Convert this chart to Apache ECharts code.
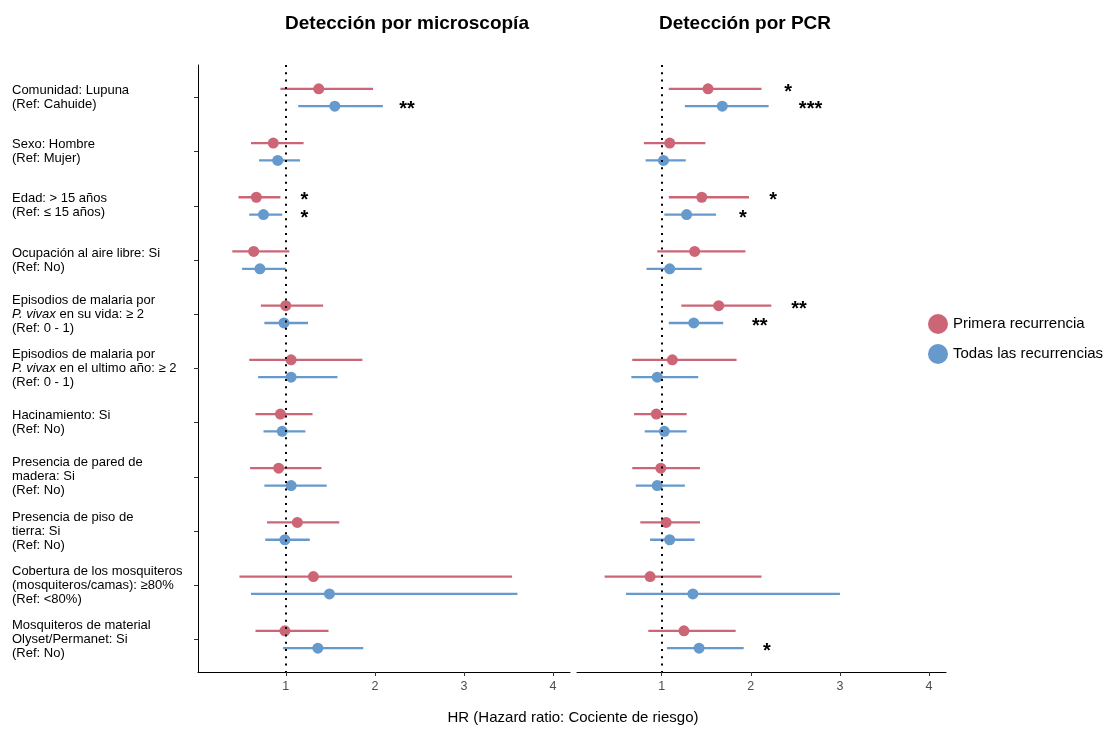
<!DOCTYPE html>
<html>
<head>
<meta charset="utf-8">
<script src="https://cdn.jsdelivr.net/npm/echarts@6/dist/echarts.min.js"></script>
<style>
  html, body { margin: 0; padding: 0; background: #fff; }
  #chart { width: 1105px; height: 729px; }
</style>
</head>
<body>
<div id="chart"></div>
<script>
const FONT = "Liberation Sans, Arial, sans-serif";
const RED = "#CC6677";
const BLUE = "#6699CC";

const categories = [
  "Comunidad: Lupuna\n(Ref: Cahuide)",
  "Sexo: Hombre\n(Ref: Mujer)",
  "Edad: > 15 años\n(Ref: ≤ 15 años)",
  "Ocupación al aire libre: Si\n(Ref: No)",
  "Episodios de malaria por\n{i|P. vivax} en su vida: ≥ 2\n(Ref: 0 - 1)",
  "Episodios de malaria por\n{i|P. vivax} en el ultimo año: ≥ 2\n(Ref: 0 - 1)",
  "Hacinamiento: Si\n(Ref: No)",
  "Presencia de pared de\nmadera: Si\n(Ref: No)",
  "Presencia de piso de\ntierra: Si\n(Ref: No)",
  "Cobertura de los mosquiteros\n(mosquiteros/camas): ≥80%\n(Ref: <80%)",
  "Mosquiteros de material\nOlyset/Permanet: Si\n(Ref: No)"
];

const seriesNames = ["Primera recurrencia", "Todas las recurrencias"];
const xTicks = [1, 2, 3, 4];

// [IC inferior, HR, IC superior]
const micPrimera = [[0.94,1.37,1.98],[0.61,0.86,1.20],[0.47,0.67,0.94],[0.40,0.64,1.04],[0.72,1.00,1.42],[0.59,1.06,1.86],[0.66,0.94,1.30],[0.60,0.92,1.40],[0.79,1.13,1.60],[0.48,1.31,3.54],[0.66,0.99,1.48]];
const micTodas   = [[1.14,1.55,2.09],[0.70,0.91,1.16],[0.59,0.75,0.96],[0.51,0.71,1.00],[0.76,0.98,1.25],[0.69,1.06,1.58],[0.75,0.96,1.22],[0.76,1.06,1.46],[0.77,0.99,1.27],[0.61,1.49,3.60],[0.97,1.36,1.87]];
const pcrPrimera = [[1.08,1.52,2.12],[0.80,1.09,1.49],[1.08,1.45,1.98],[0.95,1.37,1.94],[1.22,1.64,2.23],[0.67,1.12,1.84],[0.69,0.94,1.28],[0.67,0.99,1.43],[0.76,1.05,1.43],[0.36,0.87,2.12],[0.85,1.25,1.83]];
const pcrTodas   = [[1.26,1.68,2.20],[0.82,1.02,1.27],[1.03,1.28,1.61],[0.83,1.09,1.45],[1.08,1.36,1.69],[0.66,0.95,1.41],[0.81,1.03,1.28],[0.71,0.95,1.26],[0.87,1.09,1.37],[0.60,1.35,3.00],[1.06,1.42,1.92]];

// [x, fila, serie (0 primera / 1 todas), texto]
const micStars = [[2.36,1,1,"**"],[1.21,3,0,"*"],[1.21,3,1,"*"]];
const pcrStars = [[2.42,1,0,"*"],[2.67,1,1,"***"],[2.25,3,0,"*"],[1.91,3,1,"*"],[2.54,5,0,"**"],[2.10,5,1,"**"],[2.18,11,1,"*"]];

const OFF = 0.16;
const rows = categories.map((_, i) => i + 1);

function barSeries(arr, k, color, gi) {
  const off = k === 0 ? -OFF : OFF;
  return {
    type: "custom", name: "_ci" + k, xAxisIndex: gi, yAxisIndex: gi, z: 2,
    data: arr.map((d, i) => [d[0], d[1], d[2], i + 1 + off]),
    encode: { x: [0, 2], y: 3 },
    renderItem: (params, api) => {
      const y = api.value(3);
      const a = api.coord([api.value(0), y]);
      const b = api.coord([api.value(2), y]);
      return { type: "line", shape: { x1: a[0], y1: a[1], x2: b[0], y2: b[1] },
               style: { stroke: color, lineWidth: 2.3 } };
    },
    silent: true
  };
}

function pointSeries(arr, k, color, gi) {
  const off = k === 0 ? -OFF : OFF;
  return {
    type: "scatter", name: seriesNames[k], xAxisIndex: gi, yAxisIndex: gi, z: 3,
    symbol: "circle", symbolSize: 11,
    itemStyle: { color: color, opacity: 1 },
    data: arr.map((d, i) => [d[1], i + 1 + off])
  };
}

function starSeries(stars, gi) {
  return {
    type: "custom", name: "_stars", xAxisIndex: gi, yAxisIndex: gi, z: 4, silent: true,
    data: stars.map(s => [s[0], s[1] + (s[2] === 0 ? -OFF : OFF)]),
    encode: { x: 0, y: 1 },
    renderItem: (params, api) => {
      const p = api.coord([api.value(0), api.value(1)]);
      return { type: "text", x: p[0], y: p[1] + 3.5,
               style: { text: stars[params.dataIndex][3], fill: "#000", font: "bold 20px " + FONT,
                        align: "center", verticalAlign: "middle" } };
    }
  };
}

function refLine(gi) {
  return {
    type: "line", name: "_ref", xAxisIndex: gi, yAxisIndex: gi, data: [], z: 1,
    markLine: {
      silent: true, symbol: "none", label: { show: false },
      lineStyle: { color: "#000", width: 2, type: [2, 5.3] },
      data: [{ xAxis: 1 }]
    }
  };
}

function xAxis(gi, min) {
  return {
    type: "value", gridIndex: gi, min: min, max: 4.19,
    splitLine: { show: false },
    axisLine: { show: true, lineStyle: { color: "#000", width: 1 } },
    axisTick: { show: true, customValues: xTicks, length: 4, lineStyle: { color: "#333" } },
    axisLabel: { customValues: xTicks, color: "#4d4d4d", fontSize: 12.5, fontFamily: FONT, margin: 8 }
  };
}

function yAxis(gi, withLabels) {
  return {
    type: "value", gridIndex: gi, inverse: true, min: 0.4, max: 11.6,
    splitLine: { show: false },
    axisLine: { show: withLabels, onZero: false, lineStyle: { color: "#000", width: 1 } },
    axisTick: { show: withLabels, customValues: rows, length: 4, lineStyle: { color: "#333" } },
    axisLabel: {
      show: withLabels, customValues: rows, align: "left", margin: 186,
      color: "#000", fontSize: 13, fontFamily: FONT, lineHeight: 14,
      formatter: v => categories[Math.round(v) - 1] || "",
      rich: { i: { fontStyle: "italic", fontSize: 13, fontFamily: FONT, color: "#000", lineHeight: 14 } }
    }
  };
}

const chart = echarts.init(document.getElementById("chart"), null, { renderer: "canvas" });
chart.setOption({
  backgroundColor: "#fff",
  animation: false,
  textStyle: { fontFamily: FONT },
  grid: [
    { left: 198, top: 65, width: 372, height: 607 },
    { left: 577, top: 65, width: 369, height: 607 }
  ],
  xAxis: [xAxis(0, 0.015), xAxis(1, 0.05)],
  yAxis: [yAxis(0, true), yAxis(1, false)],
  legend: {
    data: seriesNames, orient: "vertical", left: 923, top: 309,
    itemWidth: 20, itemHeight: 20, itemGap: 10, icon: "circle",
    textStyle: { fontSize: 15, color: "#000", fontFamily: FONT }
  },
  graphic: [
    { type: "text", x: 407, y: 24, style: { text: "Detección por microscopía", font: "bold 19px " + FONT, fill: "#000", align: "center", verticalAlign: "middle" } },
    { type: "text", x: 745, y: 24, style: { text: "Detección por PCR", font: "bold 19px " + FONT, fill: "#000", align: "center", verticalAlign: "middle" } },
    { type: "text", x: 573, y: 718, style: { text: "HR (Hazard ratio: Cociente de riesgo)", font: "15px " + FONT, fill: "#000", align: "center", verticalAlign: "middle" } }
  ],
  series: [
    refLine(0), refLine(1),
    barSeries(micPrimera, 0, RED, 0), pointSeries(micPrimera, 0, RED, 0),
    barSeries(micTodas, 1, BLUE, 0), pointSeries(micTodas, 1, BLUE, 0),
    barSeries(pcrPrimera, 0, RED, 1), pointSeries(pcrPrimera, 0, RED, 1),
    barSeries(pcrTodas, 1, BLUE, 1), pointSeries(pcrTodas, 1, BLUE, 1),
    starSeries(micStars, 0), starSeries(pcrStars, 1)
  ]
});
</script>
</body>
</html>
